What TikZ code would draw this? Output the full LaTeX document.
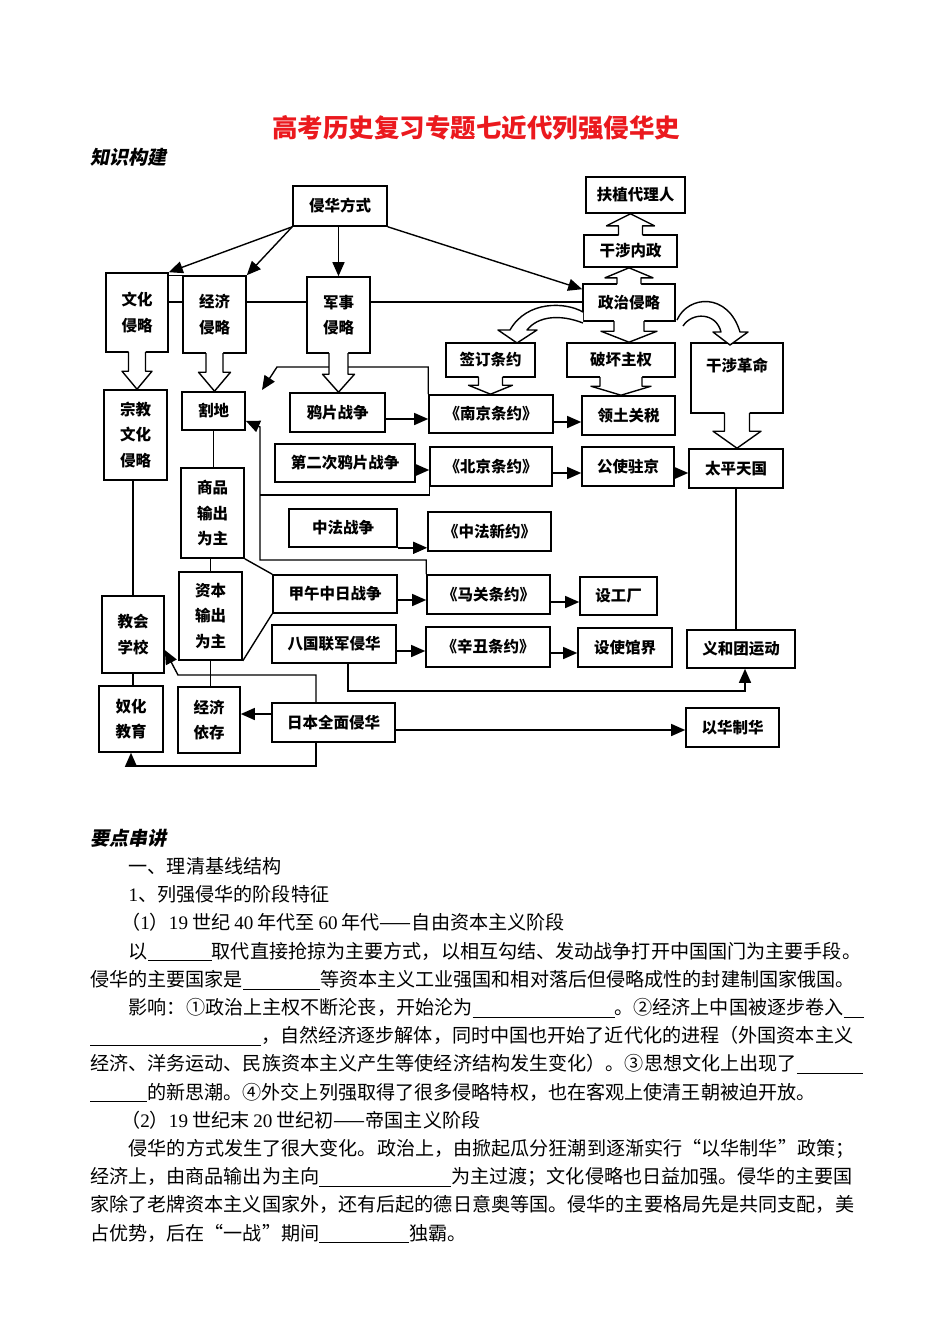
\documentclass[tikz,border=0pt]{standalone}
\usepackage{fontspec}
\setmainfont{Noto Sans CJK SC}
\newfontfamily\slcjk[FakeSlant=0.2]{Noto Sans CJK SC}
\newfontfamily\lat{Liberation Serif}
\usetikzlibrary{arrows.meta,calc}
\definecolor{titlered}{RGB}{235,25,30}
\newcommand\bxfont{\fontsize{15.5}{25.5}\selectfont\bfseries}
\newcommand\bodyfont{\fontsize{19.1}{19.1}\selectfont}
\newcommand\blank[1]{\rule[-3pt]{#1pt}{0.8pt}}
\newcommand\nm[1]{{\lat #1}}
\newcommand\bxc[6]{\node[bx, minimum width={#4-#2}, minimum height={#5-#3}] (#1) at ({(#2+#4)/2},{(#3+#5)/2}) {#6};}
\newcommand\blkdown[5]{%
 \coordinate (bs) at (#1.south);
 \coordinate (bt) at (#1.south |- #2.north);
 \fill[white] ($(bs)+(-#3,-2.5)$) -- ($(bt)+(-#3,-#5)$) -- ($(bt)+(-#4,-#5)$) -- (bt) -- ($(bt)+(#4,-#5)$) -- ($(bt)+(#3,-#5)$) -- ($(bs)+(#3,-2.5)$) -- cycle;
 \draw[ln, line join=round] ($(bs)+(-#3,-0.8)$) -- ($(bt)+(-#3,-#5)$) -- ($(bt)+(-#4,-#5)$) -- (bt) -- ($(bt)+(#4,-#5)$) -- ($(bt)+(#3,-#5)$) -- ($(bs)+(#3,-0.8)$);
}
\newcommand\blkup[5]{%
 \coordinate (bs) at (#1.north);
 \coordinate (bt) at (#1.north |- #2.south);
 \fill[white] ($(bs)+(-#3,2.5)$) -- ($(bt)+(-#3,#5)$) -- ($(bt)+(-#4,#5)$) -- (bt) -- ($(bt)+(#4,#5)$) -- ($(bt)+(#3,#5)$) -- ($(bs)+(#3,2.5)$) -- cycle;
 \draw[ln, line join=round] ($(bs)+(-#3,0.8)$) -- ($(bt)+(-#3,#5)$) -- ($(bt)+(-#4,#5)$) -- (bt) -- ($(bt)+(#4,#5)$) -- ($(bt)+(#3,#5)$) -- ($(bs)+(#3,0.8)$);
}
\tikzset{
 bx/.style={draw, line width=1.6pt, inner sep=0pt, font=\bxfont, align=center},
 ln/.style={line width=1.4pt},
 arr/.style={line width=1.4pt, -{Triangle[length=14pt,width=12pt]}},
 body/.style={anchor=base west, inner sep=0pt, font=\bodyfont},
 head/.style={anchor=base west, inner sep=0pt, font=\fontsize{19}{19}\selectfont\slcjk\bfseries},
}
\begin{document}
\begin{tikzpicture}[x=1pt,y=-1pt]
\fill[white] (0,0) rectangle (950,1342);
\useasboundingbox (0,0) rectangle (950,1342);

% title
\node[inner sep=0pt, font=\fontsize{25.5}{25.5}\selectfont\bfseries, text=titlered] (title) at (476,128) {高考历史复习专题七近代列强侵华史};
\node[head] (zsgj) at (90,164.2) {知识构建};

% boxes
\bxc{qhfs}{293}{186}{387}{226}{侵华方式}
\bxc{fzdl}{586}{177}{685}{213}{扶植代理人}
\bxc{gsnz}{584}{235}{677}{267}{干涉内政}
\bxc{zzql}{583}{284}{675}{321}{政治侵略}
\bxc{qdty}{446}{343}{535}{377}{签订条约}
\bxc{phzq}{567}{343}{675}{377}{破坏主权}
\bxc{gsgm}{691}{343}{783}{413}{}
\node[inner sep=0pt, font=\bxfont] (gsgmt) at (737,365) {干涉革命};
\bxc{whql}{106}{273}{168}{352}{文化\\侵略}
\bxc{jjql}{183}{276}{246}{353}{经济\\侵略}
\bxc{jsql}{307}{277}{370}{353}{军事\\侵略}
\bxc{zjwh}{104}{390}{167}{480}{宗教\\文化\\侵略}
\bxc{gd}{182}{392}{245}{430}{割地}
\bxc{yp}{290}{393}{385}{432}{鸦片战争}
\bxc{dp}{275}{444}{415}{482}{第二次鸦片战争}
\bxc{zf}{289}{509}{397}{547}{中法战争}
\bxc{njty}{429}{395}{553}{433}{《南京条约》}
\bxc{ltgs}{582}{396}{675}{435}{领土关税}
\bxc{bjty}{430}{447}{552}{486}{《北京条约》}
\bxc{gszj}{582}{447}{674}{486}{公使驻京}
\bxc{tptg}{689}{449}{783}{488}{太平天国}
\bxc{zfxy}{428}{512}{551}{551}{《中法新约》}
\bxc{spsc}{181}{468}{244}{558}{商品\\输出\\为主}
\bxc{zbsc}{179}{572}{242}{660}{资本\\输出\\为主}
\bxc{jw}{273}{575}{397}{613}{甲午中日战争}
\bxc{bg}{272}{625}{396}{663}{八国联军侵华}
\bxc{jhxx}{102}{596}{164}{673}{教会\\学校}
\bxc{nhjy}{99}{686}{163}{752}{奴化\\教育}
\bxc{jjyc}{178}{687}{240}{753}{经济\\依存}
\bxc{rb}{272}{703}{395}{742}{日本全面侵华}
\bxc{mgty}{427}{575}{550}{614}{《马关条约》}
\bxc{sgc}{580}{577}{657}{615}{设工厂}
\bxc{xcty}{426}{627}{550}{667}{《辛丑条约》}
\bxc{sygj}{578}{628}{672}{667}{设使馆界}
\bxc{yht}{687}{630}{795}{668}{义和团运动}
\bxc{yhzh}{686}{708}{779}{747}{以华制华}

% helper coordinates
\coordinate (hl) at (0,302);
\coordinate (k1) at (277,367);
\coordinate (k2) at (262,390);
\coordinate (k3) at (260,560);
\coordinate (k4) at (260,427);
\coordinate (k5) at (260,495);
\coordinate (k6) at (178,675);

% connectors from 侵华方式
\draw[arr] (qhfs.south west) -- (whql.north east);
\draw[arr] (qhfs.south west) -- (jjql.north east);
\draw[arr] (jsql.north |- qhfs.south) -- (jsql.north);
\draw[arr] (qhfs.south east) -- ($(zzql.north west)+(0,6)$);

% horizontal link of the four categories
\draw[ln] (whql.east |- hl) -- (jjql.west |- hl);
\draw[ln] (jjql.east |- hl) -- (jsql.west |- hl);
\draw[ln] (jsql.east |- hl) -- (zzql.west |- hl);
\draw[ln] (whql.east |- jjql.north) -- (jjql.north west);

% plain vertical links
\draw[ln] (jhxx.north |- zjwh.south) -- (jhxx.north);
\draw[ln] (jhxx.south) -- (jhxx.south |- nhjy.north);
\draw[ln] (gd.south) -- (gd.south |- spsc.north);
\draw[ln] (zbsc.north |- spsc.south) -- (zbsc.north);
\draw[ln] (zbsc.south) -- (zbsc.south |- jjyc.north);
\draw[ln] (spsc.south east) -- (jw.north west);
\draw[ln] (zbsc.south east) -- (jw.south west);

% treaties to 割地
\draw[arr] (njty.north west) |- (k1) -- (k2);
\draw[arr] (mgty.north west) |- (k3) -- (k4) -- ($(gd.south east)+(0,-10)$);
\draw[ln] (bjty.south west) |- (k5);

% wars to treaties
\draw[arr] (yp.east |- 0,419) -- (njty.west |- 0,419);
\draw[arr] (dp.east |- 0,470) -- (bjty.west |- 0,470);
\draw[arr] (zf.south east) -- (zfxy.west |- zf.south east);
\draw[arr] (jw.east |- 0,600) -- (mgty.west |- 0,600);
\draw[arr] (bg.east |- 0,651) -- (xcty.west |- 0,651);
% treaties to results
\draw[arr] (njty.east |- 0,422) -- (ltgs.west |- 0,422);
\draw[arr] (bjty.east |- 0,473) -- (gszj.west |- 0,473);
\draw[arr] (gszj.east |- 0,473) -- (tptg.west |- 0,473);
\draw[arr] (mgty.east |- 0,602) -- (sgc.west |- 0,602);
\draw[arr] (xcty.east |- 0,653) -- (sygj.west |- 0,653);
\draw[ln] (tptg.south) -- (tptg.south |- yht.north);
\draw[arr] ($(bg.south)+(14,0)$) |- ($(yht.south)+(4,22)$) -- ($(yht.south)+(4,0)$);

% 日本全面侵华
\draw[arr] (rb.east |- 0,730) -- (yhzh.west |- 0,730);
\draw[arr] (rb.west |- 0,714) -- (jjyc.east |- 0,714);
\draw[arr] (rb.south -| 316,0) |- (nhjy.south |- 0,766) -- (nhjy.south);
\draw[arr] (rb.north -| 316,0) |- (k6) -- (jhxx.east |- 0,650);

% curved hollow arrows from 政治侵略
\filldraw[ln, fill=white, line join=round] (583,312) .. controls (566,302) and (527,300) .. (510,330) -- (498,330) -- (517,343) -- (537,330) -- (527,330) .. controls (538,316) and (560,314) .. (583,323);
\filldraw[ln, fill=white, line join=round] (677,320) .. controls (688,295) and (728,292) .. (740,332) -- (748,332) -- (730,345) -- (713,332) -- (721,332) .. controls (716,312) and (692,312) .. (683,326);

% straight hollow arrows
\blkdown{whql}{zjwh}{8.5}{15}{18}
\blkdown{jjql}{gd}{8.5}{16}{19}
\blkdown{jsql}{yp}{9.5}{16}{18}
\blkup{gsnz}{fzdl}{12}{24}{12}
\blkup{zzql}{gsnz}{12}{24}{10}
\blkdown{zzql}{phzq}{15}{28}{11}
\blkdown{qdty}{njty}{12}{22}{9}
\blkdown{phzq}{ltgs}{21}{30}{9}
\blkdown{gsgm}{tptg}{12.5}{24}{17}

% text section
\node[head] (ydcj) at (90,845.3) {要点串讲};
\node[body] (t2) at (128.5,873.5) {一、理清基线结构};
\node[body] (t3) at (128.5,901.7) {\nm{1}、列强侵华的阶段特征};
\node[body] (t4) at (121,929.9) {（\nm{1}）\nm{19}\hspace{4pt}世纪\hspace{4pt}\nm{40}\hspace{4pt}年代至\hspace{4pt}\nm{60}\hspace{4pt}年代——自由资本主义阶段};
\node[body] (t5) at (128.5,958.1) {以\blank{64}取代直接抢掠为主要方式，以相互勾结、发动战争打开中国国门为主要手段。};
\node[body] (t6) at (90,986.3) {侵华的主要国家是\blank{77}等资本主义工业强国和相对落后但侵略成性的封建制国家俄国。};
\node[body] (t7) at (128.5,1014.5) {影响：①政治上主权不断沦丧，开始沦为\blank{142}。②经济上中国被逐步卷入\blank{20}};
\node[body] (t8) at (90,1042.7) {\blank{171}，自然经济逐步解体，同时中国也开始了近代化的进程（外国资本主义};
\node[body] (t9) at (90,1070.9) {经济、洋务运动、民族资本主义产生等使经济结构发生变化）。③思想文化上出现了\blank{66}};
\node[body] (t10) at (90,1099.1) {\blank{57}的新思潮。④外交上列强取得了很多侵略特权，也在客观上使清王朝被迫开放。};
\node[body] (t11) at (121,1127.3) {（\nm{2}）\nm{19}\hspace{4pt}世纪末\hspace{4pt}\nm{20}\hspace{4pt}世纪初——帝国主义阶段};
\node[body] (t12) at (128.5,1155.5) {侵华的方式发生了很大变化。政治上，由掀起瓜分狂潮到逐渐实行“以华制华”政策；};
\node[body] (t13) at (90,1183.7) {经济上，由商品输出为主向\blank{132}为主过渡；文化侵略也日益加强。侵华的主要国};
\node[body] (t14) at (90,1211.9) {家除了老牌资本主义国家外，还有后起的德日意奥等国。侵华的主要格局先是共同支配，美};
\node[body] (t15) at (90,1240.1) {占优势，后在“一战”期间\blank{90}独霸。};
\end{tikzpicture}
\end{document}
